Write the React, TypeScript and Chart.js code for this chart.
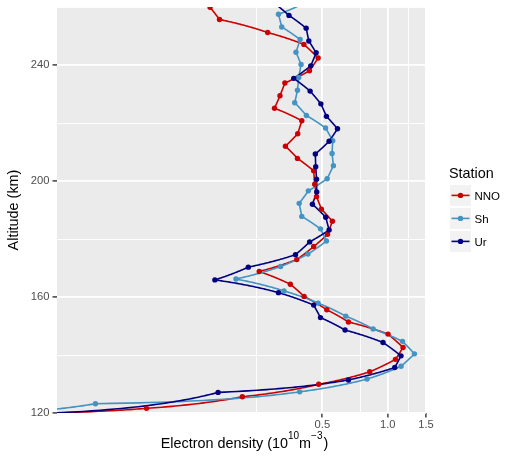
import React, { useEffect, useRef } from "react";
import { Chart, registerables } from "chart.js";

Chart.register(...registerables);

const stations = ["NNO", "Sh", "Ur"];
const stationColors = ["#CC0000", "#4393C3", "#000080"];

const altNNO = [119.2, 121.6, 125.6, 129.9, 134.2, 138.5, 142.6, 147.2, 151.4, 155.6, 160.2, 164.4, 168.8, 172.9, 177.4, 181.6, 186.1, 190.3, 194.6, 198.9, 203.5, 207.8, 212.0, 216.3, 220.8, 225.1, 229.4, 233.8, 238.0, 242.4, 247.1, 251.2, 255.7, 259.9, 264.1];
const densNNO = [0.005, 0.0775, 0.214, 0.481, 0.826, 1.085, 1.176, 1.003, 0.659, 0.524, 0.412, 0.356, 0.256, 0.381, 0.456, 0.528, 0.556, 0.495, 0.470, 0.461, 0.456, 0.384, 0.338, 0.385, 0.402, 0.301, 0.319, 0.336, 0.436, 0.478, 0.411, 0.280, 0.168, 0.152, 0.141];

const altSh = [118.9, 123.2, 127.3, 131.7, 136.1, 140.4, 144.7, 149.0, 153.4, 157.9, 162.1, 166.2, 170.5, 174.8, 179.3, 183.5, 187.8, 192.3, 196.6, 200.8, 205.3, 209.5, 213.9, 218.3, 222.6, 227.0, 231.3, 235.7, 240.2, 244.4, 248.8, 253.1, 257.5, 261.8];
const densSh = [0.0094, 0.0451, 0.393, 0.803, 1.151, 1.327, 1.169, 0.856, 0.641, 0.478, 0.333, 0.200, 0.321, 0.429, 0.522, 0.490, 0.402, 0.391, 0.431, 0.526, 0.562, 0.554, 0.558, 0.517, 0.422, 0.373, 0.384, 0.389, 0.399, 0.378, 0.395, 0.325, 0.314, 0.426];

const altUr = [118.9, 127.1, 131.4, 135.7, 139.7, 144.3, 148.6, 152.9, 157.2, 161.5, 165.9, 170.3, 174.6, 179.0, 183.1, 187.5, 192.0, 196.2, 200.6, 204.9, 209.3, 213.7, 218.0, 222.3, 226.6, 231.0, 235.4, 239.7, 244.2, 248.3, 252.7, 257.1, 261.5];
const densUr = [0.008, 0.1655, 0.659, 1.077, 1.151, 0.951, 0.636, 0.490, 0.456, 0.314, 0.160, 0.228, 0.376, 0.437, 0.537, 0.518, 0.450, 0.471, 0.470, 0.466, 0.464, 0.537, 0.587, 0.522, 0.492, 0.439, 0.369, 0.442, 0.468, 0.433, 0.421, 0.351, 0.298];

const xMin = 0.03;
const xMax = 1.5;
const xGridValues = [0.25, 0.5, 0.75, 1.0, 1.25, 1.5];
const xLabelValues = [0.5, 1.0, 1.5];
const yMin = 120;
const yMax = 260;
const yGridValues = [120, 140, 160, 180, 200, 220, 240, 260];
const yLabelValues = [120, 160, 200, 240];

const xTitleMain = "Electron density (10";
const xTitleSup1 = "10";
const xTitleMid = "m";
const xTitleSup2 = "\u22123";
const xTitleEnd = ")";
const yTitle = "Altitude (km)";
const legendTitle = "Station";

const FONT = '"Liberation Sans", Arial, Helvetica, sans-serif';

const seriesAlt = [altNNO, altSh, altUr];
const seriesDens = [densNNO, densSh, densUr];

const panelBg = {
  id: "panelBg",
  beforeDraw(chart: any) {
    const { ctx, chartArea: a } = chart;
    ctx.save();
    ctx.fillStyle = "#FFFFFF";
    ctx.fillRect(0, 0, chart.width, chart.height);
    ctx.fillStyle = "#EBEBEB";
    ctx.fillRect(a.left, a.top, a.right - a.left, a.bottom - a.top);
    ctx.restore();
  },
};

// Paths are straight in data space (coord_trans style), mapped through the chart's scales.
const dataPaths = {
  id: "dataPaths",
  beforeDatasetsDraw(chart: any) {
    const { ctx, chartArea: a } = chart;
    const xs = chart.scales.x;
    const ys = chart.scales.y;
    ctx.save();
    ctx.beginPath();
    ctx.rect(a.left, a.top, a.right - a.left, a.bottom - a.top);
    ctx.clip();
    ctx.lineWidth = 1.6;
    ctx.lineJoin = "round";
    chart.data.datasets.forEach((ds: any) => {
      const pts = ds.data;
      ctx.strokeStyle = ds.backgroundColor;
      ctx.beginPath();
      ctx.moveTo(xs.getPixelForValue(pts[0].x), ys.getPixelForValue(pts[0].y));
      for (let i = 1; i < pts.length; i++) {
        const p0 = pts[i - 1];
        const p1 = pts[i];
        const n = 40;
        for (let k = 1; k <= n; k++) {
          const t = k / n;
          const vx = p0.x + (p1.x - p0.x) * t;
          const vy = p0.y + (p1.y - p0.y) * t;
          ctx.lineTo(xs.getPixelForValue(vx), ys.getPixelForValue(vy));
        }
      }
      ctx.stroke();
    });
    ctx.restore();
  },
};

const annotations = {
  id: "annotations",
  afterDraw(chart: any) {
    const { ctx, chartArea: a } = chart;
    ctx.save();
    ctx.fillStyle = "#000000";
    ctx.textBaseline = "alphabetic";
    ctx.textAlign = "left";
    const big = `14.4px ${FONT}`;
    const small = `10px ${FONT}`;
    ctx.font = big;
    const w1 = ctx.measureText(xTitleMain).width;
    const w3 = ctx.measureText(xTitleMid).width;
    const w5 = ctx.measureText(xTitleEnd).width;
    ctx.font = small;
    const w2 = ctx.measureText(xTitleSup1).width;
    const w4 = ctx.measureText(xTitleSup2).width;
    const total = w1 + w2 + w3 + w4 + w5 + 1;
    const base = 447.7;
    const raise = 8.6;
    let x = 244.5 - total / 2;
    ctx.font = big;
    ctx.fillText(xTitleMain, x, base);
    x += w1;
    ctx.font = small;
    ctx.fillText(xTitleSup1, x, base - raise);
    x += w2;
    ctx.font = big;
    ctx.fillText(xTitleMid, x, base);
    x += w3;
    ctx.font = small;
    ctx.fillText(xTitleSup2, x, base - raise);
    x += w4;
    ctx.font = big;
    ctx.fillText(xTitleEnd, x + 1, base);

    ctx.save();
    ctx.translate(18.3, (a.top + a.bottom) / 2);
    ctx.rotate(-Math.PI / 2);
    ctx.textAlign = "center";
    ctx.font = big;
    ctx.fillText(yTitle, 0, 0);
    ctx.restore();

    ctx.font = big;
    ctx.textAlign = "left";
    ctx.fillText(legendTitle, 449, 178.3);
    stations.forEach((s, i) => {
      const cy = 195.4 + i * 23;
      ctx.fillStyle = "#F2F2F2";
      ctx.fillRect(450, cy - 10.5, 21, 21);
      ctx.strokeStyle = stationColors[i];
      ctx.lineWidth = 1.6;
      ctx.beginPath();
      ctx.moveTo(451.5, cy);
      ctx.lineTo(469.5, cy);
      ctx.stroke();
      ctx.fillStyle = stationColors[i];
      ctx.beginPath();
      ctx.arc(460.5, cy, 2.7, 0, Math.PI * 2);
      ctx.fill();
      ctx.fillStyle = "#000000";
      ctx.font = `11.5px ${FONT}`;
      ctx.fillText(s, 474.5, cy + 4.1);
    });
    ctx.restore();
  },
};

export default function App() {
  const ref = useRef<HTMLCanvasElement | null>(null);

  useEffect(() => {
    if (!ref.current) return;
    const datasets = stations.map((s, i) => ({
      label: s,
      data: seriesAlt[i].map((alt, j) => ({ x: seriesDens[i][j], y: alt })),
      backgroundColor: stationColors[i],
      borderColor: stationColors[i],
      pointRadius: 2.7,
      pointBorderWidth: 0,
      pointHoverRadius: 2.7,
      showLine: false,
      order: 3 - i,
    }));

    const chart = new Chart(ref.current, {
      type: "scatter",
      data: { datasets },
      options: {
        animation: false,
        responsive: false,
        events: [],
        layout: { padding: { left: 0, right: 89, top: 7, bottom: 0 } },
        plugins: {
          legend: { display: false },
          tooltip: { enabled: false },
        },
        scales: {
          x: {
            type: "logarithmic",
            min: xMin,
            max: xMax,
            afterBuildTicks: (scale: any) => {
              scale.ticks = xGridValues.map((v) => ({ value: v }));
            },
            afterFit: (scale: any) => {
              scale.height = 53;
              scale.paddingLeft = 0;
              scale.paddingRight = 0;
            },
            border: { display: false },
            grid: {
              color: "#FFFFFF",
              lineWidth: (c: any) => (xLabelValues.includes(c.tick?.value) ? 1.8 : 0.9),
              tickColor: (c: any) => (xLabelValues.includes(c.tick?.value) ? "#333333" : "rgba(0,0,0,0)"),
              tickLength: 4.5,
              tickWidth: 1.4,
            },
            ticks: {
              autoSkip: false,
              maxRotation: 0,
              minRotation: 0,
              padding: 1,
              color: "#4D4D4D",
              font: { family: FONT, size: 11.2 },
              callback: (v: any) => (xLabelValues.includes(Number(v)) ? Number(v).toFixed(1) : ""),
            },
          },
          y: {
            type: "linear",
            min: yMin,
            max: yMax,
            afterBuildTicks: (scale: any) => {
              scale.ticks = yGridValues.map((v) => ({ value: v }));
            },
            afterFit: (scale: any) => {
              scale.width = 57;
              scale.paddingTop = 0;
              scale.paddingBottom = 0;
            },
            border: { display: false },
            grid: {
              color: "#FFFFFF",
              lineWidth: (c: any) => (yLabelValues.includes(c.tick?.value) ? 1.8 : 0.9),
              tickColor: (c: any) => (yLabelValues.includes(c.tick?.value) ? "#333333" : "rgba(0,0,0,0)"),
              tickLength: 4.5,
              tickWidth: 1.4,
            },
            ticks: {
              autoSkip: false,
              padding: 3,
              color: "#4D4D4D",
              font: { family: FONT, size: 11.2 },
              callback: (v: any) => (yLabelValues.includes(Number(v)) ? String(v) : ""),
            },
          },
        },
      },
      plugins: [panelBg, dataPaths, annotations],
    });
    return () => chart.destroy();
  }, []);

  return (
    <div style={{ position: "fixed", left: 0, top: 0, width: 515, height: 466, background: "#FFFFFF" }}>
      <canvas ref={ref} width={515} height={466} style={{ display: "block", width: 515, height: 466 }} />
    </div>
  );
}
